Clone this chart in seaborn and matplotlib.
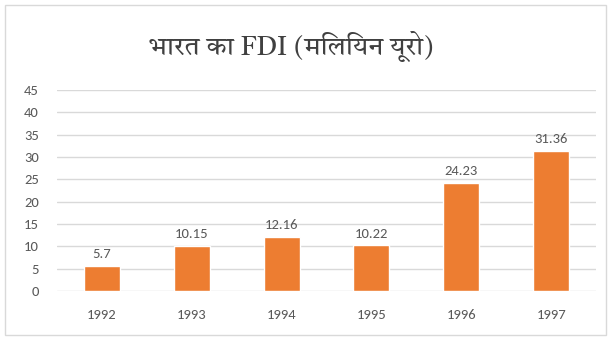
import matplotlib
matplotlib.use("Agg")
import matplotlib.pyplot as plt
from matplotlib import font_manager as fm
from matplotlib.patches import Rectangle
import seaborn as sns
import pandas as pd

years = ["1992", "1993", "1994", "1995", "1996", "1997"]
fdi = [5.7, 10.15, 12.16, 10.22, 24.23, 31.36]
labels = ["5.7", "10.15", "12.16", "10.22", "24.23", "31.36"]
y_ticks = [0, 5, 10, 15, 20, 25, 30, 35, 40, 45]
title = "भारत का FDI (मिलियन यूरो)"

sns.set_theme(style="white")
available = {f.name for f in fm.fontManager.ttflist}
body_font = next((n for n in ["Carlito", "Open Sans", "DejaVu Sans"] if n in available), "DejaVu Sans")
title_font = next((n for n in ["Tiro Devanagari Hindi", "Noto Serif Devanagari", "Noto Sans Devanagari"]
                   if n in available), "DejaVu Sans")
plt.rcParams["font.family"] = [body_font, "DejaVu Sans"]

grey_text = "#595959"
grid_col = "#D9D9D9"
bar_col = "#ED7D31"

df = pd.DataFrame({"year": years, "fdi": fdi})

fig = plt.figure(figsize=(6.12, 3.40), dpi=100)
ax = fig.add_axes([57 / 612, 49 / 340, 539 / 612, 201 / 340])

sns.barplot(data=df, x="year", y="fdi", color=bar_col, saturation=1, width=0.4, ax=ax)

ax.set_ylim(0, 45)
ax.set_yticks(y_ticks)
ax.yaxis.grid(True, color=grid_col, linewidth=1)
ax.set_axisbelow(True)
for s in ax.spines.values():
    s.set_visible(False)
ax.set_xlabel("")
ax.set_ylabel("")
ax.tick_params(axis="both", length=0, labelsize=10.5, labelcolor=grey_text)
ax.tick_params(axis="x", pad=13)
ax.tick_params(axis="y", pad=13)

for patch, txt in zip(ax.patches, labels):
    ax.annotate(txt, (patch.get_x() + patch.get_width() / 2, patch.get_height()),
                xytext=(0, 4), textcoords="offset points", ha="center", va="bottom",
                fontsize=10.5, color=grey_text)

fig.text(291 / 612, 1 - 46 / 340, title, ha="center", va="center",
         fontsize=19, color="#404040", family=[title_font, "DejaVu Sans"])

fig.patches.append(Rectangle((5 / 612, 5 / 340), 601 / 612, 330 / 340, transform=fig.transFigure,
                             fill=False, edgecolor=grid_col, linewidth=1))

fig.savefig("out.png", dpi=100, facecolor="white")
